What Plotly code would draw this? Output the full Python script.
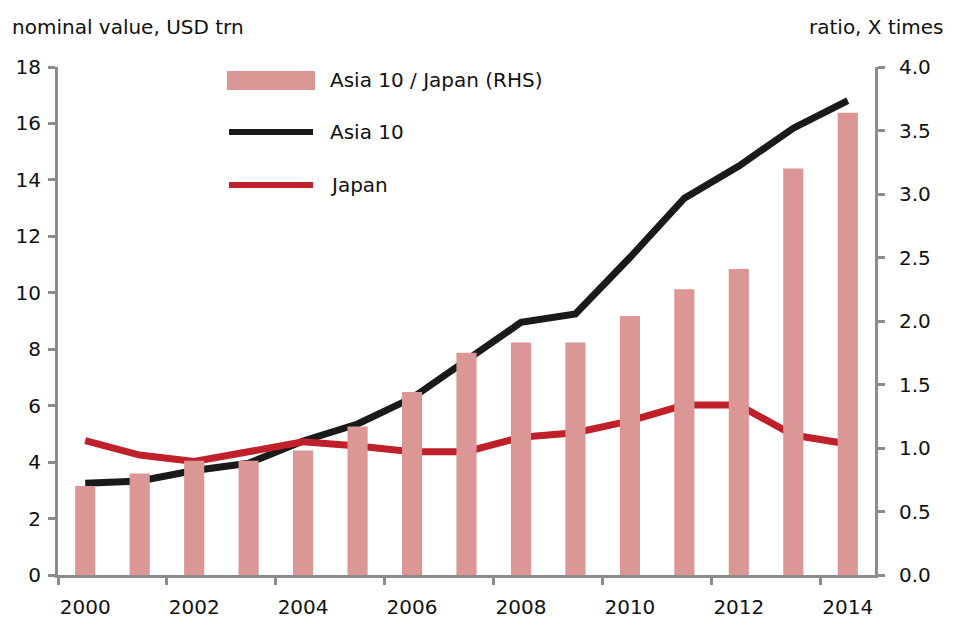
import plotly.graph_objects as go

# Data
years = list(range(2000, 2015))
asia10 = [3.25, 3.33, 3.70, 3.96, 4.75, 5.35, 6.27, 7.60, 8.95, 9.25, 11.25, 13.35, 14.49, 15.83, 16.81]
japan = [4.76, 4.25, 4.02, 4.37, 4.72, 4.57, 4.37, 4.37, 4.88, 5.04, 5.46, 6.02, 6.02, 4.96, 4.64]
ratio = [0.70, 0.80, 0.90, 0.90, 0.98, 1.17, 1.44, 1.75, 1.83, 1.83, 2.04, 2.25, 2.41, 3.20, 3.64]
year_labels = [str(y) for y in range(2000, 2015, 2)]

FONT = "DejaVu Sans"
FS = 20
BAR_COL = "#db9696"
BLACK = "#1a1a1a"
RED = "#c0202a"
AXIS_COL = "#8c8c8c"

fig = go.Figure()

fig.add_trace(go.Bar(x=years, y=ratio, yaxis="y2", marker_color=BAR_COL,
                     marker_line_width=0, width=0.37, name="Asia 10 / Japan (RHS)"))
fig.add_trace(go.Scatter(x=years, y=asia10, mode="lines", name="Asia 10",
                         line=dict(color=BLACK, width=7)))
fig.add_trace(go.Scatter(x=years, y=japan, mode="lines", name="Japan",
                         line=dict(color=RED, width=7)))

# Plot area in page pixels: x 58..875, y 67..575 (page body has 8px margin)
OFF = 8
W, H = 957 - OFF, 619 - OFF
L, R, T, B = 58, 875, 67, 575
def px(x):
    return (x - L) / (R - L)
def py(y):
    return (B - y) / (B - T)

# Manual legend (long swatches)
shapes = [
    dict(type="rect", xref="paper", yref="paper", x0=px(227), x1=px(315),
         y0=py(90), y1=py(71), fillcolor=BAR_COL, line_width=0),
    dict(type="line", xref="paper", yref="paper", x0=px(229), x1=px(313),
         y0=py(132), y1=py(132), line=dict(color=BLACK, width=6)),
    dict(type="line", xref="paper", yref="paper", x0=px(229), x1=px(313),
         y0=py(185), y1=py(185), line=dict(color=RED, width=6)),
]
annotations = []
for label, yy in [("Asia 10 / Japan (RHS)", 80), ("Asia 10", 132), ("Japan", 185)]:
    annotations.append(dict(text=label, xref="paper", yref="paper", x=px(328), y=py(yy),
                            xanchor="left", yanchor="middle", showarrow=False,
                            font=dict(size=FS, color="#111", family=FONT)))
annotations.append(dict(text="nominal value, USD trn", xref="paper", yref="paper",
                        x=px(10), y=py(27), xanchor="left", yanchor="middle",
                        showarrow=False, font=dict(size=FS, color="#111", family=FONT)))
annotations.append(dict(text="ratio, X times", xref="paper", yref="paper",
                        x=px(946), y=py(27), xanchor="right", yanchor="middle",
                        showarrow=False, font=dict(size=FS, color="#111", family=FONT)))

fig.update_layout(
    width=W, height=H,
    margin=dict(l=L - OFF, r=957 - R, t=T - OFF, b=619 - B),
    paper_bgcolor="white", plot_bgcolor="white",
    showlegend=False,
    font=dict(family=FONT, size=FS, color="#111"),
    shapes=shapes, annotations=annotations,
    xaxis=dict(range=[1999.5, 2014.5], tickvals=list(range(2000, 2015, 2)),
               ticktext=year_labels, ticks="", showgrid=False, zeroline=False,
               showline=True, linecolor=AXIS_COL, linewidth=3, automargin=False,
               ticklabelstandoff=12,
               minor=dict(tick0=1999.5, dtick=2, ticks="outside", ticklen=7,
                          tickwidth=3, tickcolor=AXIS_COL, showgrid=False)),
    yaxis=dict(range=[0, 18], dtick=2, ticks="outside", ticklen=7, tickwidth=3,
               tickcolor=AXIS_COL, showgrid=False, zeroline=False, automargin=False,
               showline=True, linecolor=AXIS_COL, linewidth=3, ticklabelstandoff=3),
    yaxis2=dict(range=[0, 4], dtick=0.5, tickformat=".1f", overlaying="y", side="right",
                ticks="outside", ticklen=7, tickwidth=3, tickcolor=AXIS_COL,
                showgrid=False, zeroline=False, showline=True, automargin=False,
                linecolor=AXIS_COL, linewidth=3, ticklabelstandoff=10),
)

fig.write_html("out.html")
